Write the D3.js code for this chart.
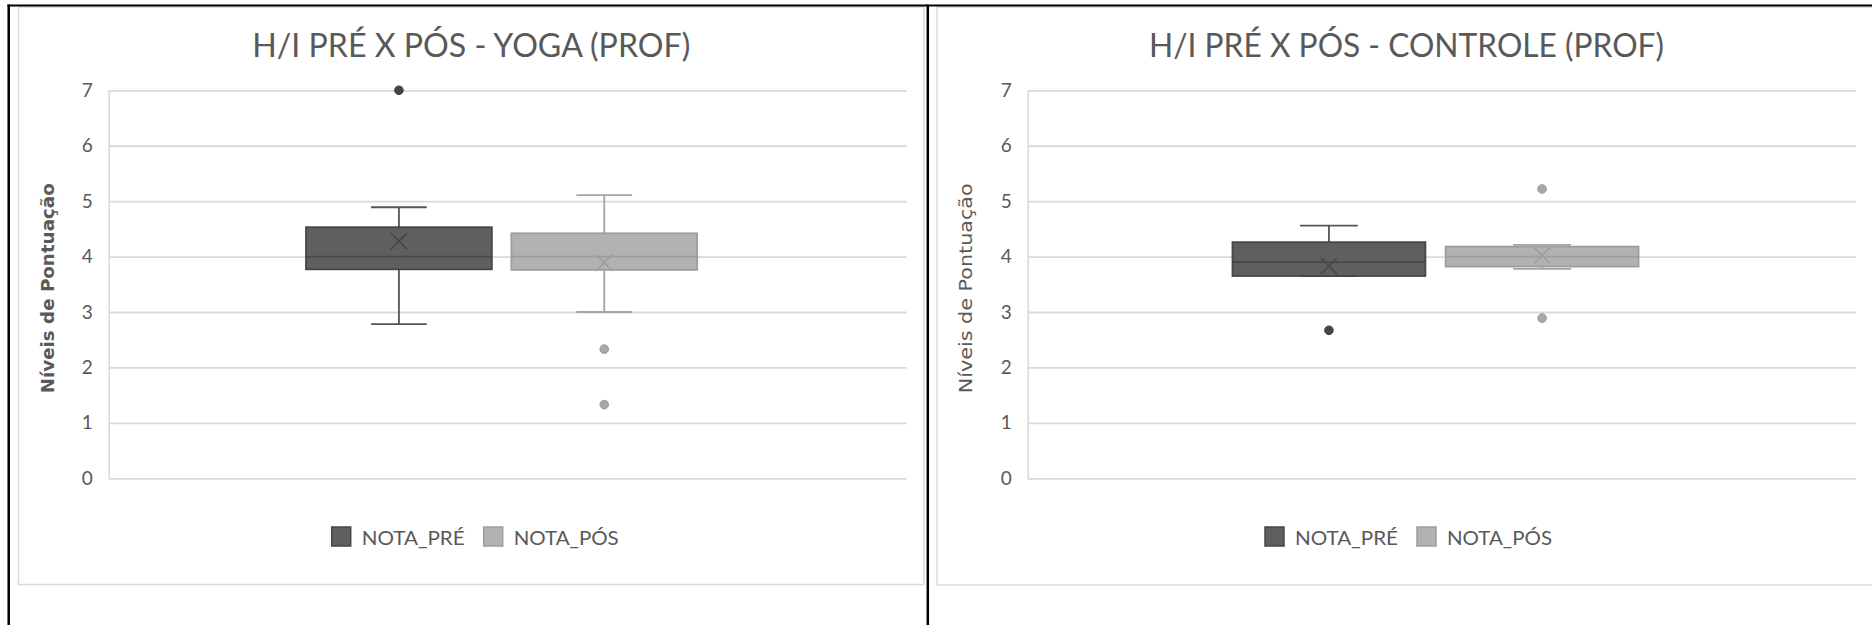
<!DOCTYPE html>
<html>
<head>
<meta charset="utf-8">
<script src="https://cdn.jsdelivr.net/npm/d3@7"></script>
<style>
  html, body { margin: 0; padding: 0; background: #ffffff; }
  svg { display: block; }
</style>
</head>
<body>
<svg id="chart" width="1872" height="625"></svg>
<script>
// Series shown in each panel
const series = ["NOTA_PRÉ", "NOTA_PÓS"];
const yTicks = [0, 1, 2, 3, 4, 5, 6, 7];

// YOGA (PROF) – five-number summaries, means and outliers per series
const yogaMin = [2.78, 3.00];
const yogaQ1 = [3.77, 3.76];
const yogaMedian = [4.00, 4.00];
const yogaQ3 = [4.53, 4.42];
const yogaMax = [4.89, 5.11];
const yogaMean = [4.28, 3.89];
const yogaOutliers = [[7.00], [2.33, 1.33]];

// CONTROLE (PROF)
const ctrlMin = [3.65, 3.78];
const ctrlQ1 = [3.65, 3.82];
const ctrlMedian = [3.90, 4.00];
const ctrlQ3 = [4.26, 4.18];
const ctrlMax = [4.56, 4.21];
const ctrlMean = [3.83, 4.02];
const ctrlOutliers = [[2.67], [5.22, 2.89]];

const titles = ["H/I PRÉ X PÓS - YOGA (PROF)", "H/I PRÉ X PÓS - CONTROLE (PROF)"];
const yTitle = "Níveis de Pontuação";

const fills = ["#5f5f5f", "#b2b2b2"];
const strokes = ["#474747", "#9d9d9d"];
const whiskerColors = ["#555555", "#a3a3a3"];
const textColor = "#595959";
const gridColor = "#d9d9d9";
const baseFont = "Lato, 'Open Sans', 'Liberation Sans', sans-serif";

const svg = d3.select("#chart");

svg.append("rect").attr("width", 1872).attr("height", 625).attr("fill", "#ffffff");

function buildStats(mins, q1s, meds, q3s, maxs, means, outs) {
  return series.map((s, i) => ({
    name: s, min: mins[i], q1: q1s[i], median: meds[i], q3: q3s[i],
    max: maxs[i], mean: means[i], outliers: outs[i], idx: i
  }));
}

const panels = [
  {
    stats: buildStats(yogaMin, yogaQ1, yogaMedian, yogaQ3, yogaMax, yogaMean, yogaOutliers),
    title: titles[0], titleLen: 438, yTitleBold: true,
    area: { x0: 18.5, x1: 924, y0: 7, y1: 584.5 },
    plot: { x0: 108.7, x1: 906.7, y0: 90.3, y1: 478.3 },
    legendLeft: 331.7
  },
  {
    stats: buildStats(ctrlMin, ctrlQ1, ctrlMedian, ctrlQ3, ctrlMax, ctrlMean, ctrlOutliers),
    title: titles[1], titleLen: 515, yTitleBold: false,
    area: { x0: 937, x1: 1876, y0: 7, y1: 585 },
    plot: { x0: 1027.7, x1: 1856, y0: 90.3, y1: 478.3 },
    legendLeft: 1265
  }
];

panels.forEach(p => {
  const g = svg.append("g");
  const a = p.area, pl = p.plot;

  // chart area frame
  g.append("rect")
    .attr("x", a.x0).attr("y", a.y0)
    .attr("width", a.x1 - a.x0).attr("height", a.y1 - a.y0)
    .attr("fill", "#ffffff").attr("stroke", gridColor).attr("stroke-width", 1.5);

  const y = d3.scaleLinear().domain([0, 7]).range([pl.y1, pl.y0]);

  // one category slot holding both series
  const xCat = d3.scaleBand().domain(["H/I"]).range([pl.x0, pl.x1])
    .paddingOuter(0.52).align(0.485);
  const xs = d3.scaleBand().domain(series)
    .range([xCat("H/I"), xCat("H/I") + xCat.bandwidth()])
    .paddingInner(0.095);
  const bw = xs.bandwidth();

  // y axis with gridlines
  const axis = d3.axisLeft(y).tickValues(yTicks).tickFormat(d3.format("d"))
    .tickSize(-(pl.x1 - pl.x0)).tickSizeOuter(0).tickPadding(16);
  const ax = g.append("g").attr("transform", `translate(${pl.x0},0)`).call(axis);
  ax.select(".domain").attr("stroke", gridColor).attr("stroke-width", 1.5);
  ax.selectAll(".tick line").attr("stroke", gridColor).attr("stroke-width", 1.8);
  ax.selectAll(".tick text")
    .attr("fill", textColor).attr("font-family", baseFont).attr("font-size", 19);

  // title
  g.append("text")
    .attr("x", (a.x0 + a.x1) / 2).attr("y", 57.3)
    .attr("text-anchor", "middle")
    .attr("font-family", baseFont).attr("font-size", 32)
    .attr("fill", textColor)
    .attr("textLength", p.titleLen).attr("lengthAdjust", "spacingAndGlyphs")
    .text(p.title);

  // y axis title
  const ytx = a.x0 + 29, yty = (pl.y0 + pl.y1) / 2 + 4;
  g.append("text")
    .attr("transform", `translate(${ytx},${yty}) rotate(-90)`)
    .attr("text-anchor", "middle").attr("dominant-baseline", "central")
    .attr("font-family", "'DejaVu Sans', 'Noto Sans', sans-serif")
    .attr("font-size", 17)
    .attr("font-weight", p.yTitleBold ? "bold" : "normal")
    .attr("fill", textColor)
    .attr("textLength", 210).attr("lengthAdjust", "spacingAndGlyphs")
    .text(yTitle);

  // boxes
  const boxes = g.selectAll("g.box").data(p.stats).join("g").attr("class", "box");

  boxes.each(function (d) {
    const bg = d3.select(this);
    const cx = xs(d.name) + bw / 2;
    const cap = bw * 0.3;
    const wc = whiskerColors[d.idx];

    // whiskers
    bg.append("line").attr("x1", cx).attr("x2", cx)
      .attr("y1", y(d.q3)).attr("y2", y(d.max))
      .attr("stroke", wc).attr("stroke-width", 1.8);
    bg.append("line").attr("x1", cx).attr("x2", cx)
      .attr("y1", y(d.q1)).attr("y2", y(d.min))
      .attr("stroke", wc).attr("stroke-width", 1.8);
    [d.max, d.min].forEach(v => {
      bg.append("line").attr("x1", cx - cap / 2).attr("x2", cx + cap / 2)
        .attr("y1", y(v)).attr("y2", y(v))
        .attr("stroke", wc).attr("stroke-width", 1.8);
    });

    // interquartile box
    bg.append("rect")
      .attr("x", xs(d.name)).attr("width", bw)
      .attr("y", y(d.q3)).attr("height", y(d.q1) - y(d.q3))
      .attr("fill", fills[d.idx]).attr("stroke", strokes[d.idx]).attr("stroke-width", 1.8);

    // median
    bg.append("line").attr("x1", xs(d.name)).attr("x2", xs(d.name) + bw)
      .attr("y1", y(d.median)).attr("y2", y(d.median))
      .attr("stroke", strokes[d.idx]).attr("stroke-width", 1.8);

    // mean marker
    const my = y(d.mean), s = 8;
    bg.append("path")
      .attr("d", `M${cx - s},${my - s}L${cx + s},${my + s}M${cx - s},${my + s}L${cx + s},${my - s}`)
      .attr("stroke", strokes[d.idx]).attr("stroke-width", 1.6).attr("fill", "none");

    // outliers
    bg.selectAll("circle").data(d.outliers).join("circle")
      .attr("cx", cx).attr("cy", v => y(v)).attr("r", 4.3)
      .attr("fill", d.idx === 0 ? "#474747" : "#a8a8a8")
      .attr("stroke", d.idx === 0 ? "#3a3a3a" : "#999999").attr("stroke-width", 1);
  });

  // legend
  const lg = g.append("g");
  const legendOffsets = [0, 152];
  const legendLens = [103, 105];
  series.forEach((s, i) => {
    const lx = p.legendLeft + legendOffsets[i];
    lg.append("rect").attr("x", lx).attr("y", 527).attr("width", 19).attr("height", 19)
      .attr("fill", fills[i]).attr("stroke", strokes[i]).attr("stroke-width", 1.5);
    lg.append("text").attr("x", lx + 30).attr("y", 544.5)
      .attr("font-family", baseFont).attr("font-size", 19).attr("fill", textColor)
      .attr("textLength", legendLens[i]).attr("lengthAdjust", "spacingAndGlyphs")
      .text(s);
  });
});

// outer table frame lines
const frame = svg.append("g").attr("stroke", "#000000").attr("fill", "none");
frame.append("line").attr("x1", 7.5).attr("x2", 1872).attr("y1", 5.5).attr("y2", 5.5).attr("stroke-width", 2);
frame.append("line").attr("x1", 8.7).attr("x2", 8.7).attr("y1", 4.5).attr("y2", 625).attr("stroke-width", 2.5);
frame.append("line").attr("x1", 927.8).attr("x2", 927.8).attr("y1", 4.5).attr("y2", 625).attr("stroke-width", 2.5);
</script>
</body>
</html>
